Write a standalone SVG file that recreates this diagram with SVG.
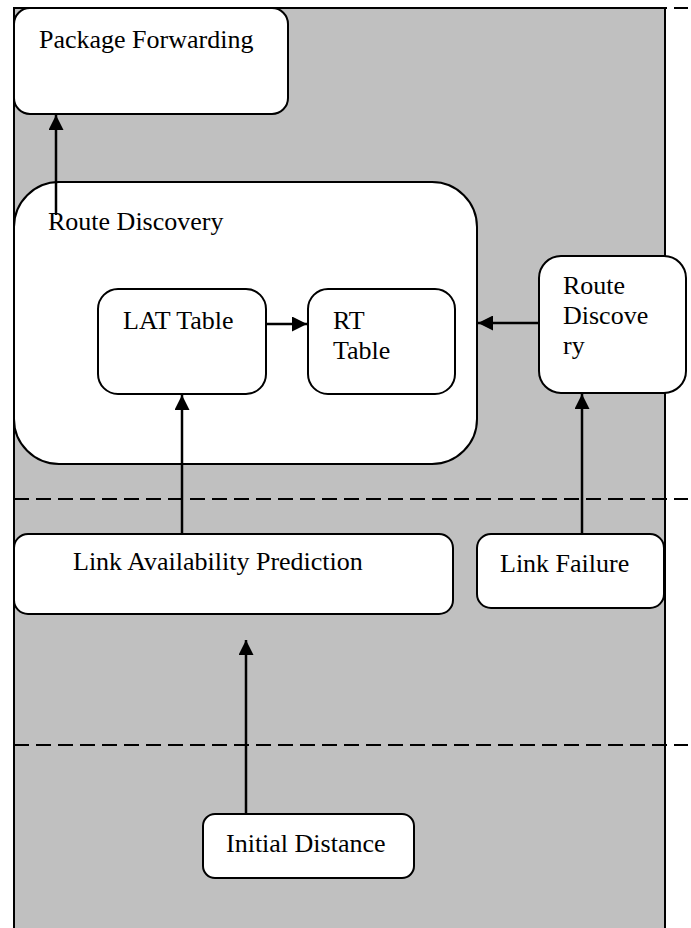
<svg xmlns="http://www.w3.org/2000/svg" width="691" height="928" viewBox="0 0 691 928">
<defs>
<style>
.box{fill:#fff;stroke:#000;stroke-width:2}
.lbl{font-family:"Liberation Serif","Times New Roman",serif;font-size:26px;fill:#000}
.conn{stroke:#000;stroke-width:2.5;fill:none}
.dash{stroke:#000;stroke-width:2;stroke-dasharray:15 7;fill:none}
</style>
<marker id="ah" viewBox="0 0 15 15" refX="15" refY="7.5" markerWidth="15" markerHeight="15" markerUnits="userSpaceOnUse" orient="auto">
<path d="M0,0 L15,7.5 L0,15 Z" fill="#000"/>
</marker>
</defs>
<rect x="0" y="0" width="691" height="928" fill="#fff"/>
<g id="background">
<rect x="14" y="8" width="651" height="930" fill="#c0c0c0" stroke="#000" stroke-width="2"/>
</g>
<g id="lanes">
<line class="dash" x1="14" y1="8" x2="688" y2="8"/>
<line class="dash" x1="14" y1="499" x2="688" y2="499"/>
<line class="dash" x1="14" y1="745" x2="688" y2="745"/>
</g>
<g id="package-forwarding">
<rect class="box" x="14" y="8" width="274" height="106" rx="16"/>
<text class="lbl" x="39" y="48">Package Forwarding</text>
</g>
<g id="route-discovery">
<rect class="box" x="14" y="182" width="463" height="282" rx="45"/>
<text class="lbl" x="48" y="230">Route Discovery</text>
</g>
<g id="lat-table">
<rect class="box" x="98" y="289" width="168" height="105" rx="20"/>
<text class="lbl" x="123" y="329">LAT Table</text>
</g>
<g id="rt-table">
<rect class="box" x="308" y="289" width="147" height="105" rx="20"/>
<text class="lbl" x="333" y="329">RT</text>
<text class="lbl" x="333" y="359">Table</text>
</g>
<g id="route-discovery-small">
<rect class="box" x="539" y="256" width="147" height="137" rx="22"/>
<text class="lbl" x="563" y="294">Route</text>
<text class="lbl" x="563" y="324">Discove</text>
<text class="lbl" x="563" y="354">ry</text>
</g>
<g id="link-availability-prediction">
<rect class="box" x="14" y="534" width="439" height="80" rx="14"/>
<text class="lbl" x="73" y="570">Link Availability Prediction</text>
</g>
<g id="link-failure">
<rect class="box" x="477" y="534" width="187" height="74" rx="14"/>
<text class="lbl" x="500" y="572">Link Failure</text>
</g>
<g id="initial-distance">
<rect class="box" x="203" y="814" width="211" height="64" rx="12"/>
<text class="lbl" x="226" y="852">Initial Distance</text>
</g>
<g id="connectors">
<line class="conn" x1="56" y1="215" x2="56" y2="115" marker-end="url(#ah)"/>
<line class="conn" x1="266" y1="324" x2="307" y2="324" marker-end="url(#ah)"/>
<line class="conn" x1="539" y1="323" x2="478" y2="323" marker-end="url(#ah)"/>
<line class="conn" x1="182" y1="534" x2="182" y2="395" marker-end="url(#ah)"/>
<line class="conn" x1="582" y1="534" x2="582" y2="394" marker-end="url(#ah)"/>
<line class="conn" x1="246" y1="814" x2="246" y2="640" marker-end="url(#ah)"/>
</g>
</svg>
